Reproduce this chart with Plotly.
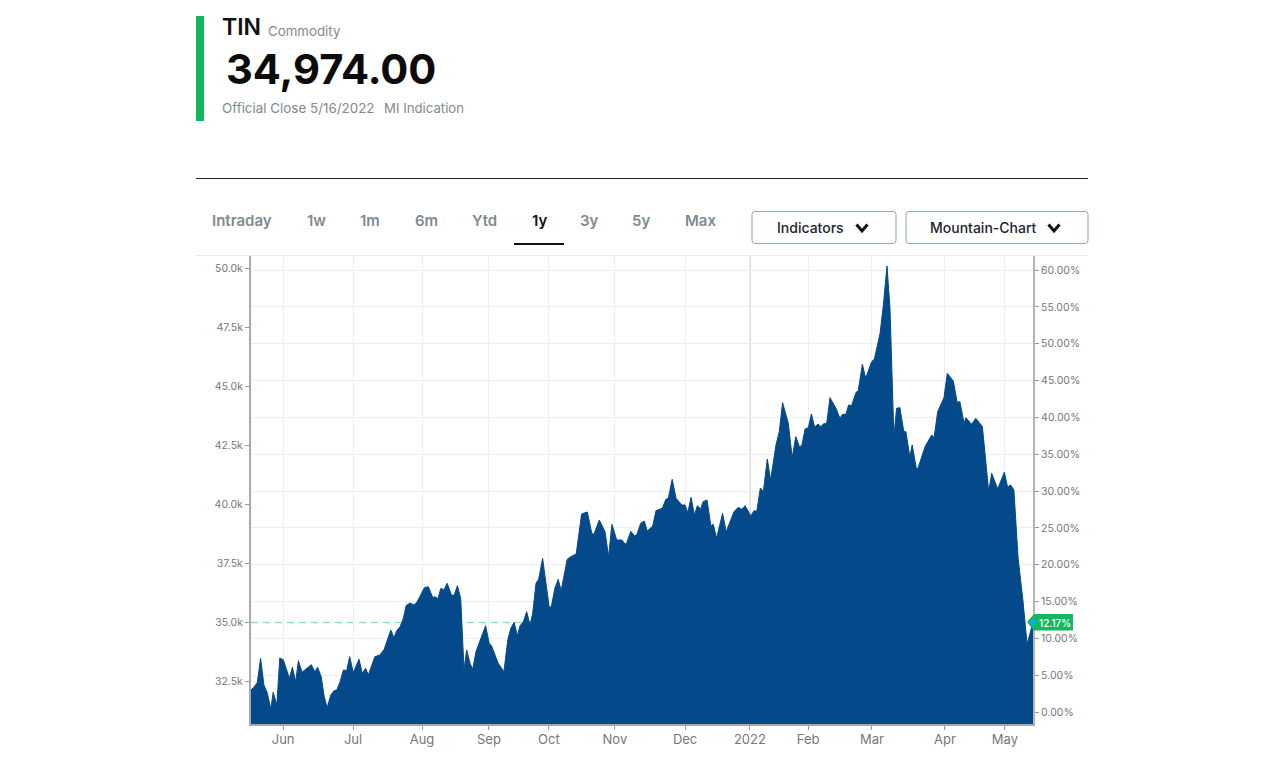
import plotly.graph_objects as go

# Trading-session index (0 = first session shown) and official close
session = [0,.8,2.1,3.2,4.3,5.4,6.6,7.4,8.6,9.6,10.8,12.8,13.8,14.9,15.8,17,20.1,21.3,22.2,23.4,24.4,25.4,26.6,27.7,28.6,29.7,30.8,31.9,32.9,34.1,36,37.1,38.2,39.1,41.3,43,44.4,46.6,47.6,48.6,49.7,50.8,51.7,53,54.3,55.4,57.8,59.1,60.6,61.3,62.3,63.3,64.3,65.4,66.8,67.7,68.8,69.9,71,71.9,73,73.9,75,78.2,79.4,80.2,82.4,84.3,85.6,86.6,87.7,88.8,89.7,90.8,91.9,93,
 93.9,95,95.9,97.2,99.4,100.1,101.3,102.4,103.4,105.4,106.6,108.4,110.2,112.1,113.6,114.3,116.1,118,119.2,120.3,121.9,123.6,124.7,125.2,126.6,127.9,128.6,129.9,131.1,132.1,133.9,135,137.1,138.3,139.1,140.4,141.7,143.6,144.7,145.6,146.7,147.8,148.8,149.9,150.7,152,153.3,154.1,155.2,157.2,158.4,161,162.4,163.6,164.7,166.6,167.7,168.6,169.8,170.8,172.1,173.2,
 175,176.1,177.2,179.1,180.4,181.6,182.8,183.6,184.7,185.8,186.8,187.9,189,189.9,190.8,191.9,193,195,196.3,197.2,198.3,199.2,200.2,201.7,202.4,203.8,204.9,206.9,207.8,209.7,210.8,212,213,214.3,215.2,216.3,217.6,218.3,219.6,220.4,221.8,222.4,224.7,226.9,227.7,228.9,231,232.1,234.1,235.4,236.3,237.7,238.3,240.2,241.6,243.8,245.9,246.9,248.9,251.1,252.2,253.2,254.3,254.8,255.7,257.3,258.7,260.67]
close = [32120,32219,32431,33462,32332,32007,31315,32021,31485,33476,33391,32614,33080,32473,33363,32869,33193,32897,33080,32685,31838,31372,31908,32092,32120,32473,32967,32939,33532,32854,33419,32826,33038,32756,33532,33603,33843,34662,34337,34634,34803,35156,35693,35806,35721,35862,36455,36497,36031,36074,35989,36427,36356,36639,36144,36130,36540,36003,32996,33815,33250,32996,33744,34845,34097,33984,33250,32897,34238,34732,34987,34422,34845,35015,35438,34874,
 35369,36639,36809,37698,35623,35651,36428,36809,36329,37656,37769,37882,39576,39661,38757,38715,39322,38828,37769,39139,38475,38475,38306,38334,38842,38644,38701,39181,39280,38856,39068,39718,39816,40198,40240,41045,40240,39958,39958,39633,40282,39534,39929,39788,40099,40169,39068,39139,38546,39605,38828,39675,39859,39774,39929,39492,39718,39689,40678,40522,41906,41017,
 42502,43066,44295,43419,41965,42855,42431,42473,43179,43236,43815,43250,43391,43278,43391,43419,44507,44055,43631,43801,43801,44196,44168,44733,44789,45919,45326,46032,46145,47232,48432,50084,48291,42855,44055,44083,43066,43066,42007,42502,41485,41541,42431,42925,42812,43914,44507,45537,45213,44309,44337,43419,43659,43377,43631,43278,40525,41301,40638,41344,40722,40807,40595,39536,37712,35932,34068,34974]

month_ticks = [10.7,34,57,79.3,99.3,121.3,144.7,166.3,185.7,207,231.3,251.3]
month_labels = ["Jun","Jul","Aug","Sep","Oct","Nov","Dec","2022","Feb","Mar","Apr","May"]
price_ticks = [32500,35000,37500,40000,42500,45000,47500,50000]
price_labels = ["32.5k","35.0k","37.5k","40.0k","42.5k","45.0k","47.5k","50.0k"]
pct_ticks = [0,5,10,15,20,25,30,35,40,45,50,55,60]
pct_labels = ["%.2f%%" % p for p in pct_ticks]
tabs = ["Intraday","1w","1m","6m","Ytd","1y","3y","5y","Max"]
last_close = 34974
last_pct = "12.17%"

W, H = 1280, 775
FONT = "Inter"
GREY = "#808a90"
px = lambda x: x / W
py = lambda y: 1 - y / H
L, R, T, B = 251, 1033, 255, 724
def price_at(y): return 35000 + (622 - y) / 59 * 2500
def pct_at(y): return (712 - y) / (442 / 60)

def path(points, closed=False):
    s = "M" + " L".join(f"{px(a):.5f},{py(b):.5f}" for a, b in points)
    return s + (" Z" if closed else "")

def rrect(x0, y0, x1, y1, r=3):
    f = lambda a, b: f"{px(a):.5f},{py(b):.5f}"
    return (f"M{f(x0+r,y0)} L{f(x1-r,y0)} Q{f(x1,y0)} {f(x1,y0+r)} L{f(x1,y1-r)} Q{f(x1,y1)} {f(x1-r,y1)} "
            f"L{f(x0+r,y1)} Q{f(x0,y1)} {f(x0,y1-r)} L{f(x0,y0+r)} Q{f(x0,y0)} {f(x0+r,y0)} Z")

fig = go.Figure()
fig.add_trace(go.Scatter(x=session, y=close, mode="lines", fill="tozeroy",
                         line=dict(color="#044a8b", width=1), fillcolor="#044a8b",
                         hoverinfo="skip", showlegend=False))

shapes = [
    dict(type="rect", xref="paper", yref="paper", x0=px(196), x1=px(204), y0=py(16), y1=py(121),
         fillcolor="#14b95f", line_width=0),
    dict(type="line", xref="paper", yref="paper", x0=px(196), x1=px(1088), y0=py(178.5), y1=py(178.5),
         line=dict(color="#222222", width=1)),
    dict(type="line", xref="paper", yref="paper", x0=px(514), x1=px(564), y0=py(244), y1=py(244),
         line=dict(color="#111111", width=2)),
    dict(type="line", xref="paper", yref="paper", x0=px(196), x1=px(1088), y0=py(255.5), y1=py(255.5),
         line=dict(color="#e8e8e8", width=1)),
    dict(type="path", xref="paper", yref="paper", path=rrect(752, 211.5, 896, 243.5),
         line=dict(color="#8fa8ae", width=1), fillcolor="white"),
    dict(type="path", xref="paper", yref="paper", path=rrect(906, 211.5, 1088, 243.5),
         line=dict(color="#8fa8ae", width=1), fillcolor="white"),
    dict(type="path", xref="paper", yref="paper", path=path([(856.5, 224.5), (862, 231), (867.5, 224.5)]),
         line=dict(color="#111111", width=3)),
    dict(type="path", xref="paper", yref="paper", path=path([(1048.5, 224.5), (1054, 231), (1059.5, 224.5)]),
         line=dict(color="#111111", width=3)),
    # darker year-boundary gridline
    dict(type="line", xref="x", yref="paper", x0=month_ticks[7], x1=month_ticks[7], y0=py(B), y1=py(T),
         line=dict(color="#dddddd", width=2), layer="below"),
    # last close reference
    dict(type="line", xref="paper", yref="y", x0=px(L), x1=px(R), y0=last_close, y1=last_close,
         line=dict(color="#8fe3b4", width=1.5, dash="7px,5px"), layer="below"),
    # last value tag
    dict(type="path", xref="paper", yref="paper",
         path=path([(1027, 622), (1034, 614), (1073, 614), (1073, 630.5), (1034, 630.5)], True),
         fillcolor="#14b95f", line_width=0),
    # last point dot
    dict(type="circle", xref="paper", yref="y", xsizemode="pixel", ysizemode="pixel",
         xanchor=px(R), yanchor=close[-1], x0=-3, x1=3, y0=-3, y1=3,
         fillcolor="#17a9ee", line_width=0),
]

def note(x, y, text, size, color=GREY, weight=400, anchor="left", family=FONT):
    return dict(xref="paper", yref="paper", x=px(x), y=py(y), text=text, showarrow=False,
                xanchor=anchor, yanchor="middle", borderpad=0, borderwidth=0,
                font=dict(family=family, size=size, color=color, weight=weight))

notes = [
    note(222, 27, "TIN", 23, "#111111", 600),
    note(268, 31, "Commodity", 13.3),
    note(226, 69, "34,974.00", 41.6, "#0b0b0b", 700),
    note(222, 108, "Official Close 5/16/2022", 13.4),
    note(384, 108, "MI Indication", 13.2),
    note(810, 227, "Indicators", 14, "#1a2430", 500, "center"),
    note(983, 227, "Mountain-Chart", 14, "#1a2430", 500, "center"),
    note(1055, 622.5, last_pct, 10, "white", 500, "center"),
]
for name, cx in zip(tabs, [242, 316, 370, 426, 484, 539, 589, 641, 700]):
    notes.append(note(cx, 220, name, 15, "#111111" if name == "1y" else GREY, 600, "center"))

fig.update_layout(
    width=W, height=H, margin=dict(l=0, r=0, t=0, b=0), autosize=False,
    paper_bgcolor="white", plot_bgcolor="white", showlegend=False,
    font=dict(family=FONT, color="#777777"),
    shapes=shapes, annotations=notes,
    xaxis=dict(domain=[px(L), px(R)], range=[0, 260.67], tickmode="array",
               tickvals=month_ticks, ticktext=month_labels, ticks="outside", ticklen=4,
               tickcolor="#999999", showgrid=True, gridcolor="#eeeeee", gridwidth=1.3,
               tickfont=dict(size=13, color="#777777", family=FONT), ticklabelstandoff=-2,
               showline=True, linecolor="#a9a9a9", linewidth=2, zeroline=False),
    yaxis=dict(domain=[py(B), py(T)], range=[price_at(B), price_at(T)], side="left",
               tickmode="array", tickvals=price_ticks, ticktext=price_labels,
               ticks="outside", ticklen=4, tickcolor="#999999", showgrid=False,
               tickfont=dict(size=10.5, color="#777777", family=FONT),
               showline=True, linecolor="#a9a9a9", linewidth=2, zeroline=False),
    yaxis2=dict(overlaying="y", side="right", anchor="x", range=[pct_at(B), pct_at(T)],
                tickmode="array", tickvals=pct_ticks, ticktext=pct_labels,
                ticks="outside", ticklen=4, tickcolor="#999999", showgrid=True,
                gridcolor="#eeeeee", gridwidth=1.3,
                tickfont=dict(size=10.5, color="#777777", family=FONT),
                showline=True, linecolor="#b5b5b5", linewidth=2, zeroline=False),
)
# invisible trace keeps the percentage axis alive
fig.add_trace(go.Scatter(x=[session[0]], y=[0], yaxis="y2", mode="lines", hoverinfo="skip",
                         line=dict(color="rgba(0,0,0,0)"), showlegend=False))

fig.write_html("out.html", config=dict(displayModeBar=False),
               post_script="document.body.style.margin='0';document.body.style.overflow='hidden';")
